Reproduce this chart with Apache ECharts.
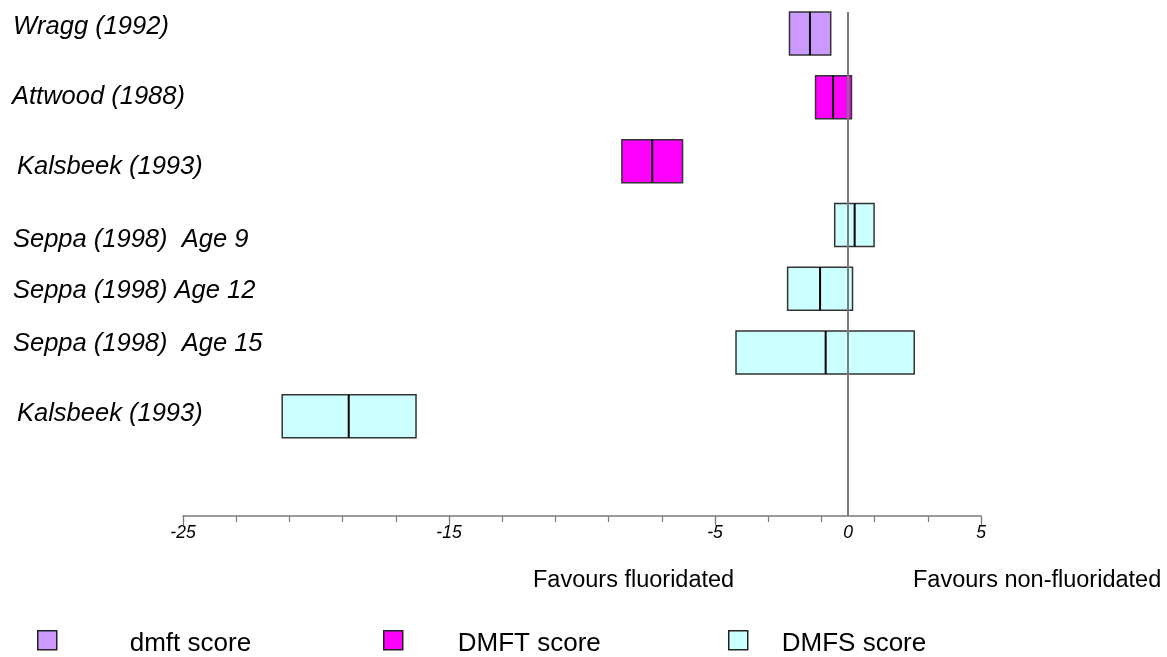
<!DOCTYPE html>
<html>
<head>
<meta charset="utf-8">
<script src="https://cdn.jsdelivr.net/npm/echarts@6/dist/echarts.min.js"></script>
<style>
html,body{margin:0;padding:0;background:#fff;}
#chart{width:1167px;height:657px;}
</style>
</head>
<body>
<div id="chart"></div>
<script>
// ---- data ----
const categories = ['Wragg (1992)', 'Attwood (1988)', 'Kalsbeek (1993)', 'Seppa (1998)  Age 9', 'Seppa (1998) Age 12', 'Seppa (1998)  Age 15', 'Kalsbeek (1993)'];
const scoreType  = ['dmft score', 'DMFT score', 'DMFT score', 'DMFS score', 'DMFS score', 'DMFS score', 'DMFS score'];
const lowerCI    = [-2.2, -1.22, -8.5, -0.5, -2.27, -4.21, -21.27];
const meanDiff   = [-1.43, -0.56, -7.36, 0.25, -1.05, -0.84, -18.77];
const upperCI    = [-0.65, 0.13, -6.22, 0.98, 0.17, 2.49, -16.24];
const seriesNames = ['dmft score', 'DMFT score', 'DMFS score'];
const xTickLabels = [-25, -15, -5, 0, 5];
const xTickMarks  = [-25, -23, -21, -19, -17, -15, -13, -11, -9, -7, -5, -3, -1, 1, 3, 5];
const xMajorTicks = [-25, -15, -5, 5];
const favourLabels = ['Favours fluoridated', 'Favours non-fluoridated'];

// ---- style / layout ----
const colors = {'dmft score': '#cc99ff', 'DMFT score': '#ff00ff', 'DMFS score': '#ccffff'};
const FONT = '"Liberation Sans", Arial, sans-serif';
const BOX_H = 43;
const labelNudgeY = [-7, 0, 6, 15, 2, -9, -2.5];
const labelLeft   = [13, 12, 17, 13, 13, 13, 17];
const legendLeft  = [32, 378, 723];
const legendTextGap = [68, 50, 29];

function renderBox(params, api) {
  const row = api.value(0);
  const p0 = api.coord([api.value(1), row]);
  const pm = api.coord([api.value(2), row]);
  const p1 = api.coord([api.value(3), row]);
  const top = p0[1] - BOX_H / 2;
  return {
    type: 'group',
    children: [
      {type: 'rect', shape: {x: p0[0], y: top, width: p1[0] - p0[0], height: BOX_H},
       style: {fill: api.visual('color'), stroke: '#333', lineWidth: 1.5}},
      {type: 'line', shape: {x1: pm[0], y1: top, x2: pm[0], y2: top + BOX_H},
       style: {stroke: '#000', lineWidth: 2}}
    ]
  };
}

const boxSeries = seriesNames.map(name => ({
  name: name,
  type: 'custom',
  renderItem: renderBox,
  itemStyle: {color: colors[name]},
  encode: {x: [1, 2, 3], y: 0},
  data: categories.map((c, i) => [i, lowerCI[i], meanDiff[i], upperCI[i]]).filter((d, i) => scoreType[i] === name),
  z: 2
}));

const labelSeries = {
  type: 'custom',
  silent: true,
  renderItem: function (params, api) {
    const row = api.value(0);
    const p = api.coord([-25, row]);
    return {type: 'text', x: labelLeft[row], y: p[1] + labelNudgeY[row],
      style: {text: categories[row], fill: '#000', font: 'italic 25.5px ' + FONT, align: 'left', verticalAlign: 'middle'}};
  },
  encode: {x: 1, y: 0},
  data: categories.map((c, i) => [i, -25]),
  z: 3
};

const zeroSeries = {
  type: 'custom',
  silent: true,
  renderItem: function (params, api) {
    const cs = params.coordSys;
    const p = api.coord([api.value(0), 0]);
    return {type: 'line', shape: {x1: p[0], y1: cs.y, x2: p[0], y2: cs.y + cs.height},
      style: {stroke: '#7a7a7a', lineWidth: 2}};
  },
  encode: {x: 0},
  data: [[0]],
  z: 5
};

const legends = seriesNames.map((name, i) => ({
  left: legendLeft[i], top: 625, itemWidth: 19, itemHeight: 19, icon: 'rect',
  itemStyle: {borderColor: '#222', borderWidth: 1.5},
  selectedMode: false,
  data: [name],
  formatter: '{t|{name}}',
  textStyle: {
    rich: {t: {fontSize: 26, fontFamily: FONT, color: '#000', padding: [8, 0, 0, legendTextGap[i]]}}
  }
}));

const option = {
  animation: false,
  backgroundColor: '#fff',
  grid: {left: 183, right: 186, top: 12, bottom: 141, containLabel: false},
  xAxis: [{
    type: 'value', min: -25, max: 5, position: 'bottom',
    axisLine: {show: true, onZero: false, lineStyle: {color: '#7a7a7a', width: 1.5}},
    axisTick: {show: true, customValues: xTickMarks, length: 6, lineStyle: {color: '#7a7a7a', width: 1.2}},
    axisLabel: {show: true, customValues: xTickLabels, margin: 8, color: '#000', fontSize: 17.5, fontStyle: 'italic', fontFamily: FONT},
    splitLine: {show: false}
  }, {
    type: 'value', min: -25, max: 5, position: 'bottom',
    axisLine: {show: false, onZero: false},
    axisTick: {show: true, customValues: xMajorTicks, length: 9, lineStyle: {color: '#7a7a7a', width: 1.2}},
    axisLabel: {show: false},
    splitLine: {show: false}
  }],
  yAxis: {type: 'value', inverse: true, min: -0.338, max: 7.562, show: false},
  legend: legends,
  graphic: [
    {type: 'text', left: 533, top: 569, style: {text: favourLabels[0], fill: '#000', font: '23.5px ' + FONT}},
    {type: 'text', left: 913, top: 569, style: {text: favourLabels[1], fill: '#000', font: '23.5px ' + FONT}}
  ],
  series: boxSeries.concat([labelSeries, zeroSeries])
};

const chart = echarts.init(document.getElementById('chart'));
chart.setOption(option);
</script>
</body>
</html>
